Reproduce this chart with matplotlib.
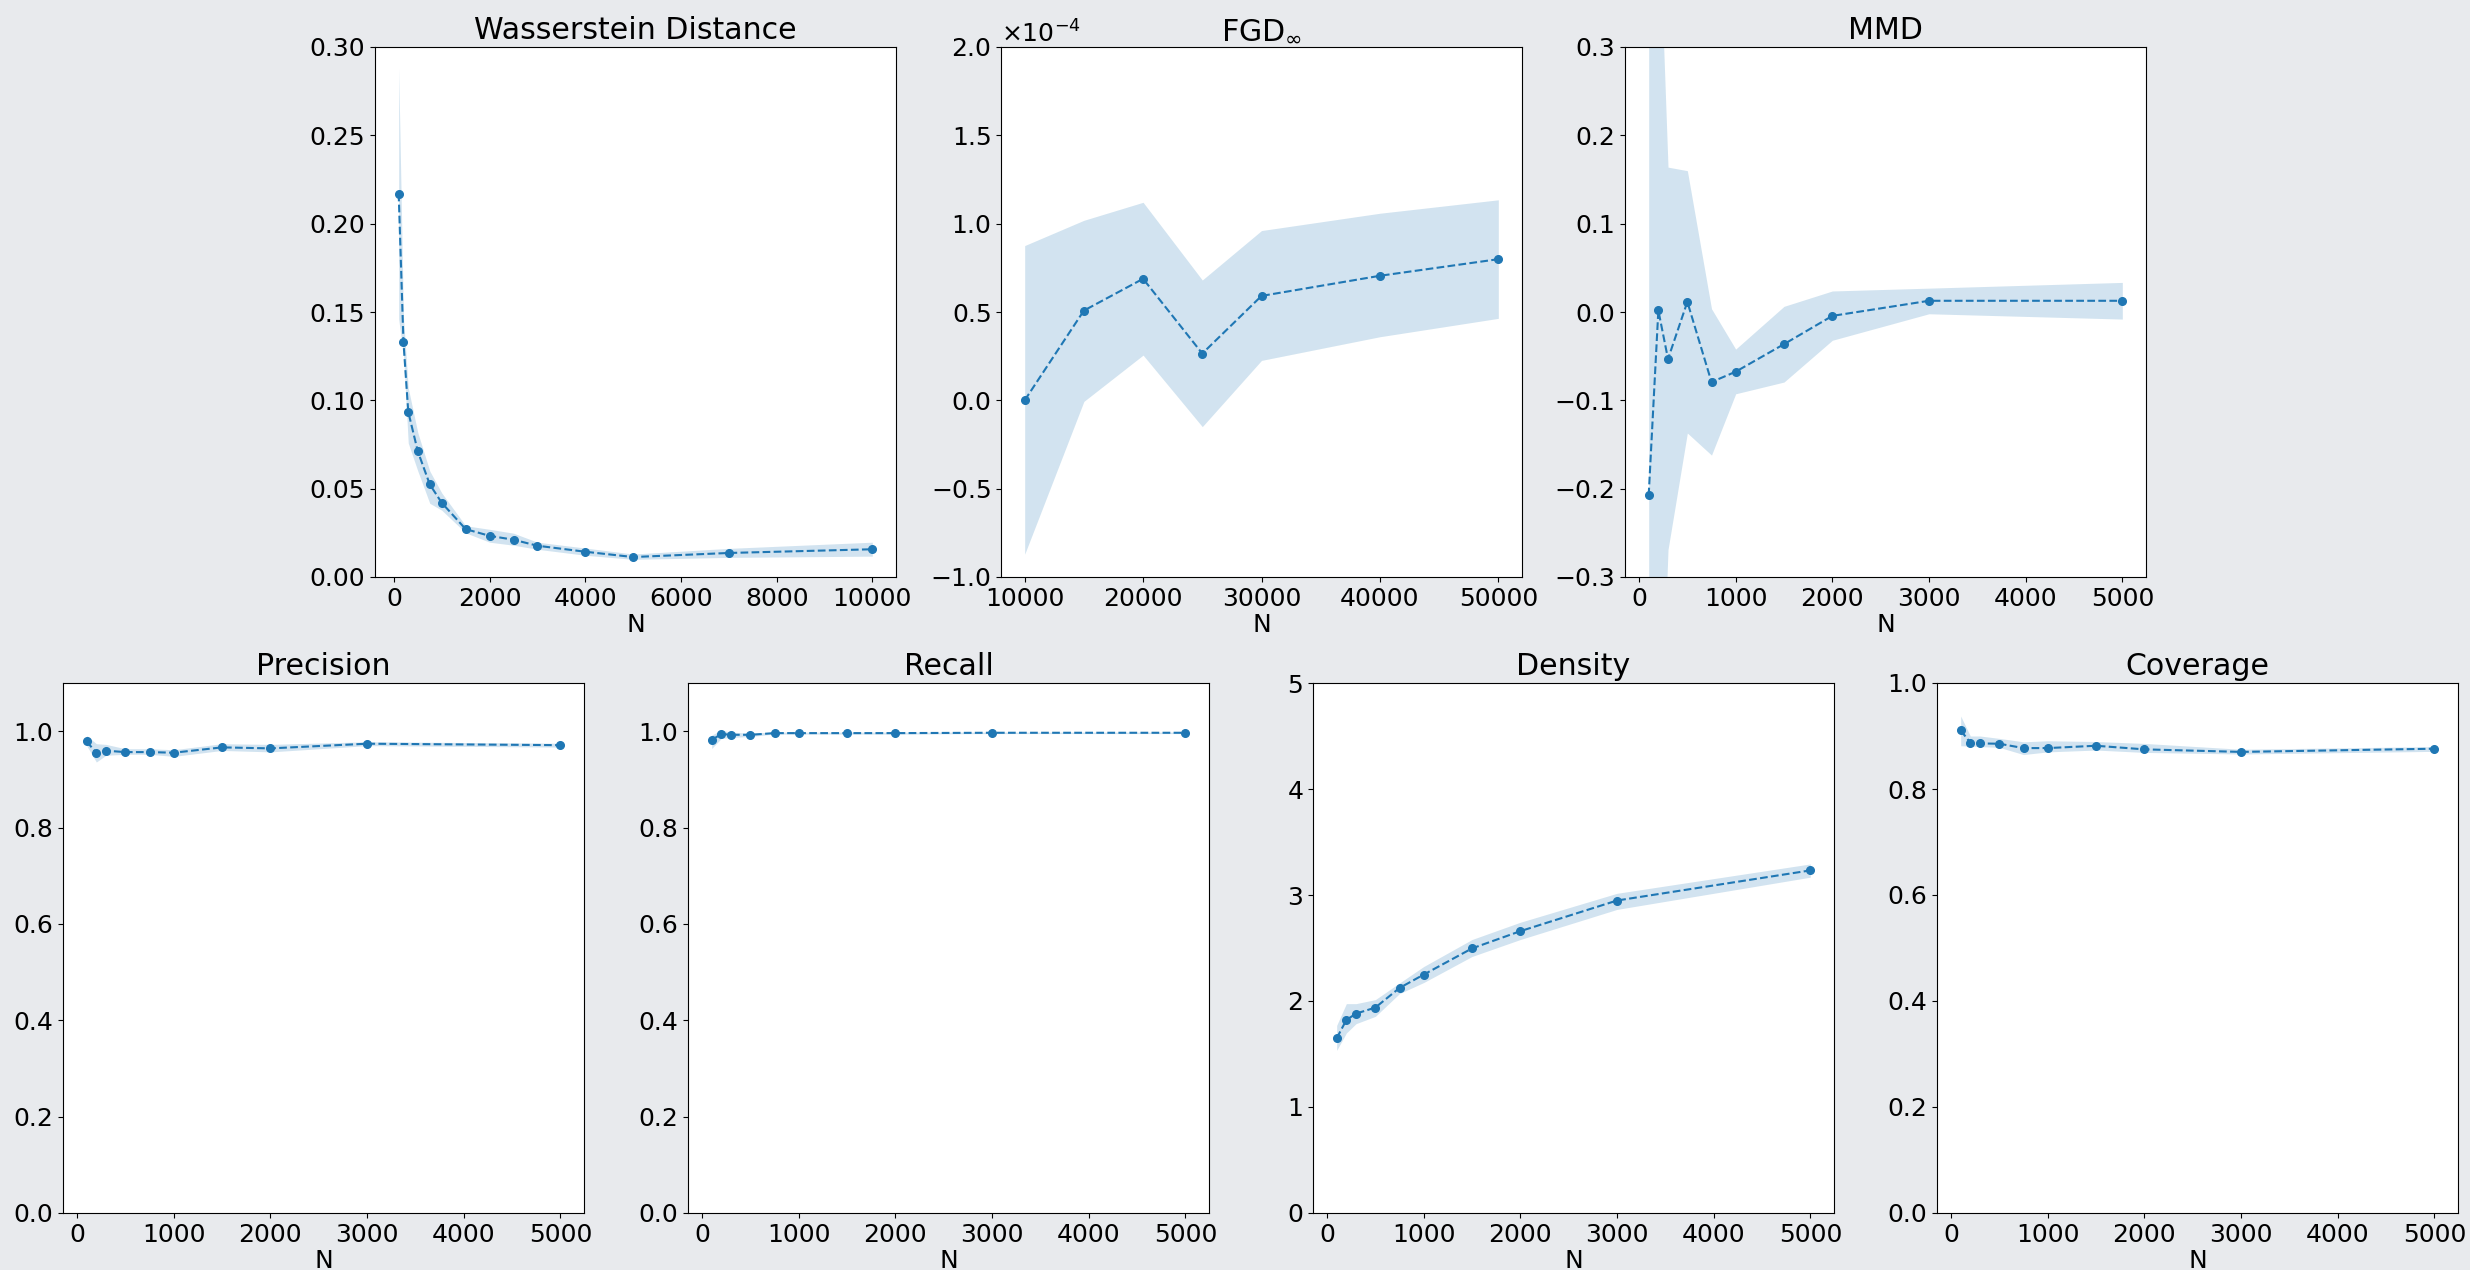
import matplotlib
matplotlib.use("Agg")
import matplotlib.pyplot as plt
from matplotlib.ticker import MultipleLocator, ScalarFormatter

plt.rcParams["font.family"] = ["DejaVu Sans"]
plt.rcParams["font.size"] = 18

# ---- Wasserstein distance vs sample size ----
N_w = [100, 200, 300, 500, 750, 1000, 1500, 2000, 2500, 3000, 4000, 5000, 7000, 10000]
w_mean = [0.217, 0.133, 0.0935, 0.0711, 0.0524, 0.042, 0.0271, 0.0233, 0.0211, 0.0177,
          0.0143, 0.0113, 0.0136, 0.0157]
w_lo = [0.146, 0.126, 0.0758, 0.060, 0.0417, 0.0378, 0.025, 0.0197, 0.018, 0.0157,
        0.0123, 0.0100, 0.0111, 0.0118]
w_hi = [0.288, 0.147, 0.107, 0.0817, 0.060, 0.0476, 0.029, 0.027, 0.0248, 0.0197,
        0.0164, 0.0130, 0.0162, 0.0197]

# ---- FGD_inf (values in units of 1e-4) ----
N_f = [10000, 15000, 20000, 25000, 30000, 40000, 50000]
f_mean = [0.0, 0.508, 0.688, 0.265, 0.591, 0.705, 0.799]
f_lo = [-0.871, -0.006, 0.256, -0.149, 0.226, 0.36, 0.464]
f_hi = [0.876, 1.019, 1.121, 0.681, 0.961, 1.059, 1.135]

# ---- MMD ----
N_m = [100, 200, 300, 500, 750, 1000, 1500, 2000, 3000, 5000]
m_mean = [-0.2076, 0.0018, -0.0532, 0.0115, -0.0793, -0.0676, -0.0364, -0.0044, 0.0127, 0.0127]
m_lo = [-0.81, -0.57, -0.269, -0.137, -0.162, -0.0926, -0.0793, -0.032, -0.002, -0.008]
m_hi = [0.40, 0.468, 0.164, 0.160, 0.0037, -0.042, 0.0064, 0.0238, 0.027, 0.0335]

# ---- Precision / Recall / Density / Coverage ----
N_b = [100, 200, 300, 500, 750, 1000, 1500, 2000, 3000, 5000]
p_mean = [0.979, 0.9545, 0.9595, 0.9566, 0.9566, 0.9553, 0.9664, 0.9643, 0.974, 0.971]
p_lo = [0.970, 0.936, 0.950, 0.952, 0.952, 0.9477, 0.960, 0.957, 0.970, 0.967]
p_hi = [0.991, 0.974, 0.9726, 0.9636, 0.9636, 0.9615, 0.974, 0.9726, 0.978, 0.975]

r_mean = [0.9817, 0.9942, 0.9925, 0.9925, 0.996, 0.996, 0.996, 0.996, 0.9967, 0.9967]
r_lo = [0.964, 0.985, 0.987, 0.989, 0.994, 0.994, 0.994, 0.994, 0.995, 0.995]
r_hi = [0.992, 1.002, 0.998, 0.996, 0.998, 0.998, 0.998, 0.998, 0.998, 0.998]

d_mean = [1.648, 1.821, 1.881, 1.938, 2.123, 2.249, 2.496, 2.659, 2.948, 3.232]
d_lo = [1.534, 1.698, 1.786, 1.855, 2.07, 2.174, 2.42, 2.58, 2.864, 3.168]
d_hi = [1.77, 1.975, 1.975, 2.013, 2.17, 2.325, 2.58, 2.743, 3.016, 3.293]

c_mean = [0.9106, 0.8873, 0.886, 0.8854, 0.8772, 0.8772, 0.8816, 0.8748, 0.870, 0.876]
c_lo = [0.8816, 0.881, 0.880, 0.8785, 0.865, 0.870, 0.8735, 0.869, 0.866, 0.871]
c_hi = [0.9377, 0.90, 0.90, 0.8955, 0.889, 0.891, 0.8896, 0.886, 0.875, 0.880]

COLOR = "#1f77b4"
W, H = 2470, 1270
fig = plt.figure(figsize=(W / 100, H / 100), dpi=100)
fig.patch.set_facecolor("#e8eaed")


def axes_px(left, top, width=521, height=530):
    return fig.add_axes([left / W, 1 - (top + height) / H, width / W, height / H])


def draw(ax, x, mean, lo, hi, title, scale=1.0):
    ax.fill_between(x, [v * scale for v in lo], [v * scale for v in hi],
                    color=COLOR, alpha=0.2, linewidth=0)
    ax.plot(x, [v * scale for v in mean], linestyle="--", marker="o",
            color=COLOR, markersize=5.5, linewidth=1.5)
    ax.set_title(title)
    ax.set_xlabel("N", labelpad=2)
    ax.set_facecolor("white")


# top row
ax = axes_px(375, 47)
draw(ax, N_w, w_mean, w_lo, w_hi, "Wasserstein Distance")
ax.set_ylim(0, 0.30)
ax.yaxis.set_major_locator(MultipleLocator(0.05))
ax.xaxis.set_major_locator(MultipleLocator(2000))

ax = axes_px(1001, 47)
draw(ax, N_f, f_mean, f_lo, f_hi, r"FGD$_\infty$", scale=1e-4)
ax.set_ylim(-1e-4, 2e-4)
ax.yaxis.set_major_locator(MultipleLocator(0.5e-4))
ax.xaxis.set_major_locator(MultipleLocator(10000))
fmt = ScalarFormatter(useMathText=True)
fmt.set_powerlimits((-3, 3))
ax.yaxis.set_major_formatter(fmt)

ax = axes_px(1625, 47)
draw(ax, N_m, m_mean, m_lo, m_hi, "MMD")
ax.set_ylim(-0.3, 0.3)
ax.yaxis.set_major_locator(MultipleLocator(0.1))
ax.xaxis.set_major_locator(MultipleLocator(1000))

# bottom row
bottom_specs = [
    (63, p_mean, p_lo, p_hi, "Precision", (0, 1.1)),
    (688, r_mean, r_lo, r_hi, "Recall", (0, 1.1)),
    (1313, d_mean, d_lo, d_hi, "Density", (0, 5)),
    (1937, c_mean, c_lo, c_hi, "Coverage", (0, 1.0)),
]
for left, mean, lo, hi, title, ylim in bottom_specs:
    ax = axes_px(left, 683)
    draw(ax, N_b, mean, lo, hi, title)
    ax.set_ylim(*ylim)
    ax.yaxis.set_major_locator(MultipleLocator(1 if title == "Density" else 0.2))
    ax.xaxis.set_major_locator(MultipleLocator(1000))

fig.savefig("out.png", dpi=100, facecolor=fig.get_facecolor())
